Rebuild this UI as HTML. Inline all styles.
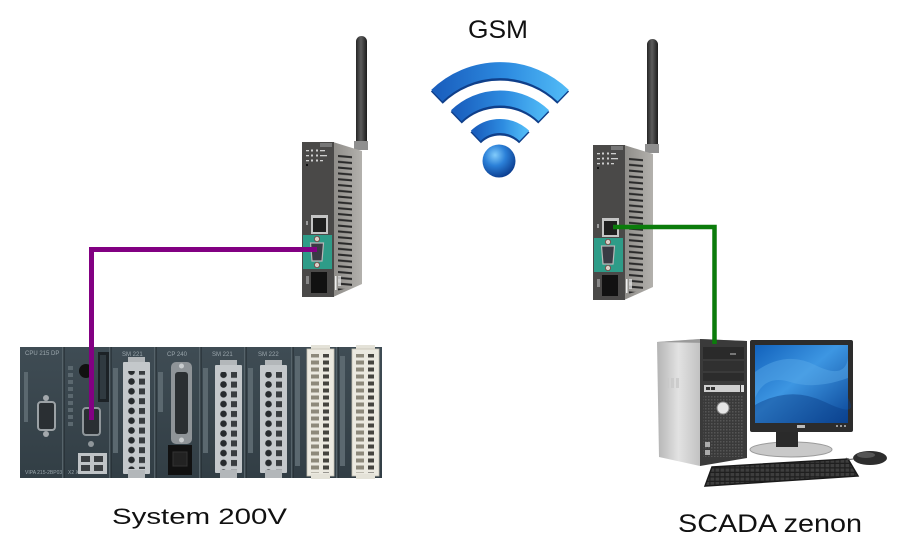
<!DOCTYPE html>
<html><head><meta charset="utf-8"><style>
html,body{margin:0;padding:0;background:#fff;}
svg{display:block;}
text{font-family:"Liberation Sans",Arial,sans-serif;}
</style></head><body>
<svg width="902" height="553" viewBox="0 0 902 553" xmlns="http://www.w3.org/2000/svg">
<defs>
 <linearGradient id="ant" x1="0" x2="1" y1="0" y2="0">
  <stop offset="0" stop-color="#262626"/><stop offset="0.45" stop-color="#5c5c5c"/><stop offset="1" stop-color="#1c1c1c"/>
 </linearGradient>
 <linearGradient id="side" x1="0" x2="1">
  <stop offset="0" stop-color="#8e8c88"/><stop offset="1" stop-color="#b3b1ad"/>
 </linearGradient>
 <pattern id="slots" patternUnits="userSpaceOnUse" x="333" y="154" width="40" height="5.8">
  <path d="M5 1 L19 2.2 L19 4.2 L5 3Z" fill="#2a2a2a"/>
 </pattern>
 <linearGradient id="arcg" x1="0" x2="1" y1="0" y2="0">
  <stop offset="0" stop-color="#1a5fbe"/><stop offset="0.55" stop-color="#2d8be0"/><stop offset="1" stop-color="#4fb8f5"/>
 </linearGradient>
 <radialGradient id="ball" cx="0.38" cy="0.32" r="0.72">
  <stop offset="0" stop-color="#82ccfb"/><stop offset="0.45" stop-color="#2b80d8"/><stop offset="1" stop-color="#0a3a8c"/>
 </radialGradient>
 <linearGradient id="mod" x1="0" x2="0" y1="0" y2="1">
  <stop offset="0" stop-color="#3f4c54"/><stop offset="1" stop-color="#323e45"/>
 </linearGradient>
 <pattern id="holes" patternUnits="userSpaceOnUse" x="0" y="0" width="27" height="9.8">
  <circle cx="8.5" cy="4.9" r="3.3" fill="#272b2e"/>
  <rect x="16" y="2" width="6" height="6" fill="#383c3f"/>
 </pattern>
 <pattern id="wholes" patternUnits="userSpaceOnUse" x="0" y="0" width="27" height="7">
  <rect x="4" y="1.5" width="8" height="4" fill="#8d897b"/>
  <rect x="16" y="1.5" width="6" height="4" fill="#45443f"/>
 </pattern>
 <linearGradient id="tower" x1="0" x2="1">
  <stop offset="0" stop-color="#b4b4b4"/><stop offset="0.5" stop-color="#e2e2e2"/><stop offset="1" stop-color="#c2c2c2"/>
 </linearGradient>
 <linearGradient id="screen" x1="0" x2="1" y1="0" y2="1">
  <stop offset="0" stop-color="#1262bc"/><stop offset="0.45" stop-color="#3d96e2"/><stop offset="1" stop-color="#0a4596"/>
 </linearGradient>
 <pattern id="grille" patternUnits="userSpaceOnUse" x="0" y="0" width="3" height="3">
  <rect width="3" height="3" fill="#3a3a3a"/><rect x="0" y="0" width="1.5" height="1.5" fill="#555"/>
 </pattern>
 <pattern id="keys" patternUnits="userSpaceOnUse" x="0" y="0" width="5" height="4.5">
  <rect width="5" height="4.5" fill="#1f1f1f"/><rect x="0.5" y="0.5" width="3.8" height="3.2" fill="#3e3e3e"/>
 </pattern>
 <g id="router">
  <rect x="356" y="36" width="11" height="112" rx="5.5" fill="url(#ant)"/>
  <rect x="354" y="141" width="14" height="9" fill="#8f8f8f"/>
  <polygon points="333,142 362,151 362,284 333,297" fill="url(#side)"/>
  <polygon points="333,152 362,158 362,284 333,292" fill="url(#slots)"/>
  <rect x="302" y="142" width="32" height="155" fill="#4a4948"/>
  <rect x="320" y="143" width="12" height="4" fill="#777"/>
  <g fill="#cfcfcf">
   <rect x="306" y="150" width="3" height="1.3"/><rect x="311" y="149.5" width="2" height="2"/><rect x="316" y="149.5" width="2" height="2"/><rect x="320" y="150" width="5" height="1.3"/>
   <rect x="306" y="155" width="3" height="1.3"/><rect x="311" y="154.5" width="2" height="2"/><rect x="316" y="154.5" width="2" height="2"/><rect x="320" y="155" width="7" height="1.3"/>
   <rect x="306" y="160" width="3" height="1.3"/><rect x="311" y="159.5" width="2" height="2"/><rect x="316" y="159.5" width="2" height="2"/><rect x="320" y="160" width="3" height="1.3"/>
  </g>
  <rect x="306" y="164" width="2" height="2" fill="#111"/>
  <rect x="306" y="221" width="2" height="4" fill="#999"/>
  <rect x="311" y="215" width="17" height="19" fill="#c4c4c4"/>
  <rect x="313" y="218" width="13" height="14" fill="#1e1e1e"/>
  <rect x="303" y="235" width="29" height="34" fill="#2e9c88"/>
  <circle cx="317" cy="239" r="2.6" fill="#d8d0c8" stroke="#7a3d3d" stroke-width="0.8"/>
  <circle cx="317" cy="265" r="2.6" fill="#d8d0c8" stroke="#7a3d3d" stroke-width="0.8"/>
  <path d="M310.5 243 L323.5 243 L322 261 L312 261Z" fill="#3a3a44" stroke="#b8b8b8" stroke-width="1.2"/>
  <rect x="306" y="276" width="3" height="8" fill="#888"/>
  <rect x="311" y="272" width="16" height="21" fill="#111"/>
  <rect x="335" y="276" width="1.5" height="14" fill="#eee"/>
  <rect x="338" y="276" width="3" height="10" fill="#ddd" opacity="0.8"/>
 </g>
</defs>

<!-- Routers -->
<use href="#router"/>
<use href="#router" transform="translate(291,3)"/>

<!-- WiFi icon -->
<g fill="none">
 <path d="M436.8,97.6 A91,91 0 0 1 563.2,97.6" stroke="#0f3f8a" stroke-width="17"/>
 <path d="M456.2,117.7 A63,63 0 0 1 543.8,117.7" stroke="#0f3f8a" stroke-width="16"/>
 <path d="M475.7,137.8 A35,35 0 0 1 524.3,137.8" stroke="#0f3f8a" stroke-width="15"/>
 <path d="M436.8,95.6 A91,91 0 0 1 563.2,95.6" stroke="url(#arcg)" stroke-width="16"/>
 <path d="M456.2,115.7 A63,63 0 0 1 543.8,115.7" stroke="url(#arcg)" stroke-width="15"/>
 <path d="M475.7,135.8 A35,35 0 0 1 524.3,135.8" stroke="url(#arcg)" stroke-width="14"/>
</g>
<circle cx="499" cy="161" r="16.5" fill="url(#ball)"/>

<!-- PLC System 200V -->
<g>
 <rect x="20" y="347" width="362" height="131" fill="url(#mod)"/>
 <g fill="#56636a">
  <rect x="62" y="347" width="1.5" height="131"/><rect x="109" y="347" width="1.5" height="131"/>
  <rect x="154" y="347" width="1.5" height="131"/><rect x="199" y="347" width="1.5" height="131"/>
  <rect x="244" y="347" width="1.5" height="131"/><rect x="291" y="347" width="1.5" height="131"/>
  <rect x="336" y="347" width="1.5" height="131"/>
 </g>
 <g fill="#1f272c">
  <rect x="63.5" y="347" width="1" height="131"/><rect x="110.5" y="347" width="1" height="131"/>
  <rect x="155.5" y="347" width="1" height="131"/><rect x="200.5" y="347" width="1" height="131"/>
  <rect x="245.5" y="347" width="1" height="131"/><rect x="292.5" y="347" width="1" height="131"/>
  <rect x="337.5" y="347" width="1" height="131"/>
 </g>
 <g font-size="6" fill="#9aa6ac">
  <text x="25" y="355">CPU 215 DP</text>
  <text x="122" y="356">SM 221</text>
  <text x="167" y="356">CP 240</text>
  <text x="212" y="356">SM 221</text>
  <text x="258" y="356">SM 222</text>
  <text x="25" y="474" font-size="5">VIPA 215-2BP03</text>
  <text x="68" y="474" font-size="5">X2 X3</text>
 </g>
 <!-- LED columns -->
 <g fill="#5b686f">
  <rect x="24" y="372" width="4" height="50"/>
  <rect x="68" y="366" width="5" height="4"/><rect x="68" y="373" width="5" height="4"/><rect x="68" y="380" width="5" height="4"/><rect x="68" y="387" width="5" height="4"/><rect x="68" y="394" width="5" height="4"/><rect x="68" y="401" width="5" height="4"/><rect x="68" y="408" width="5" height="4"/><rect x="68" y="415" width="5" height="4"/><rect x="68" y="422" width="5" height="4"/>
  <rect x="113" y="368" width="5" height="85"/>
  <rect x="158" y="372" width="5" height="40"/>
  <rect x="203" y="368" width="5" height="85"/>
  <rect x="248" y="368" width="5" height="85"/>
  <rect x="295" y="356" width="5" height="110"/>
  <rect x="340" y="356" width="5" height="110"/>
 </g>
 <!-- module 1 DB9 -->
 <circle cx="46" cy="398" r="3" fill="#a3a8ac"/>
 <circle cx="46" cy="434" r="3" fill="#a3a8ac"/>
 <rect x="38" y="402" width="17" height="28" rx="3" fill="#2a2f33" stroke="#9ba1a5" stroke-width="2"/>
 <!-- module 2 -->
 <circle cx="86" cy="371" r="7" fill="#111"/>
 <rect x="98" y="352" width="11" height="50" fill="#1c2226"/>
 <rect x="100" y="355" width="6" height="44" fill="#303a40"/>
 <rect x="83" y="408" width="17" height="27" rx="3" fill="#2a2f33" stroke="#8f969a" stroke-width="2"/>
 <circle cx="91" cy="444" r="3" fill="#8f969a"/>
 <rect x="78" y="453" width="29" height="21" fill="#bfc3c6"/>
 <rect x="81" y="456" width="9" height="6" fill="#3a3e41"/><rect x="94" y="456" width="9" height="6" fill="#3a3e41"/>
 <rect x="81" y="465" width="9" height="6" fill="#3a3e41"/><rect x="94" y="465" width="9" height="6" fill="#3a3e41"/>
 <!-- module 3 connector -->
 <g transform="translate(123,357)">
  <rect x="5" y="0" width="17" height="9" fill="#b3b7ba"/>
  <rect x="0" y="5" width="27" height="112" rx="1" fill="#c4c8cb"/>
  <rect x="0" y="14" width="27" height="98" fill="url(#holes)"/>
  <rect x="5" y="113" width="17" height="8" fill="#b3b7ba"/>
 </g>
 <!-- module 4 CP240 -->
 <rect x="171" y="362" width="21" height="82" rx="5" fill="#8f9498"/>
 <circle cx="181.5" cy="366" r="2.5" fill="#c8ccce"/>
 <circle cx="181.5" cy="440" r="2.5" fill="#c8ccce"/>
 <rect x="175" y="372" width="13" height="62" rx="3" fill="#2b2f32"/>
 <rect x="168" y="445" width="24" height="30" fill="#111"/>
 <rect x="173" y="452" width="14" height="14" fill="#222" stroke="#333"/>
 <!-- module 5 connector -->
 <g transform="translate(215,360)">
  <rect x="5" y="0" width="17" height="9" fill="#b3b7ba"/>
  <rect x="0" y="5" width="27" height="108" rx="1" fill="#c4c8cb"/>
  <rect x="0" y="12" width="27" height="98" fill="url(#holes)"/>
  <rect x="5" y="110" width="17" height="8" fill="#b3b7ba"/>
 </g>
 <!-- module 6 connector -->
 <g transform="translate(260,360)">
  <rect x="5" y="0" width="17" height="9" fill="#b3b7ba"/>
  <rect x="0" y="5" width="27" height="108" rx="1" fill="#c4c8cb"/>
  <rect x="0" y="12" width="27" height="98" fill="url(#holes)"/>
  <rect x="5" y="110" width="17" height="8" fill="#b3b7ba"/>
 </g>
 <!-- module 7 white connector -->
 <g transform="translate(307,345)">
  <rect x="4" y="0" width="19" height="6" fill="#e4e2d8"/>
  <rect x="0" y="4" width="27" height="127" fill="#ebe9e0" stroke="#c5c1b4" stroke-width="0.8"/>
  <rect x="0" y="9" width="27" height="119" fill="url(#wholes)"/>
  <rect x="4" y="129" width="19" height="5" fill="#e4e2d8"/>
 </g>
 <g transform="translate(352,345)">
  <rect x="4" y="0" width="19" height="6" fill="#e4e2d8"/>
  <rect x="0" y="4" width="27" height="127" fill="#ebe9e0" stroke="#c5c1b4" stroke-width="0.8"/>
  <rect x="0" y="9" width="27" height="119" fill="url(#wholes)"/>
  <rect x="4" y="129" width="19" height="5" fill="#e4e2d8"/>
 </g>
</g>

<!-- Computer -->
<g>
 <polygon points="657,342 700,339 700,466 659,457" fill="url(#tower)"/>
 <polygon points="657,342 700,339 747,341 706,343" fill="#9a9a9a"/>
 <g fill="#c9c9c9" opacity="0.8"><rect x="666" y="378" width="3" height="10"/><rect x="671" y="378" width="3" height="10"/><rect x="676" y="378" width="3" height="10"/></g>
 <polygon points="700,339 747,341 747,458 700,466" fill="#3a3a3a"/>
 <rect x="703" y="347" width="41" height="12" fill="#2a2a2a"/>
 <rect x="703" y="361" width="41" height="10" fill="#303030"/>
 <rect x="703" y="373" width="41" height="8" fill="#2c2c2c"/>
 <rect x="730" y="353" width="6" height="2" fill="#777"/>
 <rect x="704" y="385" width="36" height="7" fill="#cfcfcf"/>
 <rect x="706" y="387" width="4" height="3" fill="#333"/><rect x="711" y="387" width="4" height="3" fill="#333"/>
 <rect x="741" y="385" width="3" height="7" fill="#ddd"/>
 <rect x="703" y="395" width="41" height="62" fill="url(#grille)"/>
 <circle cx="723" cy="408" r="6" fill="#e6e6e6" stroke="#8a8a8a" stroke-width="1"/>
 <rect x="705" y="442" width="5" height="5" fill="#aaa"/>
 <rect x="705" y="450" width="5" height="5" fill="#aaa"/>
 <!-- monitor -->
 <ellipse cx="791" cy="449.5" rx="41" ry="7.5" fill="#c9c9c9" stroke="#9b9b9b" stroke-width="1"/>
 <rect x="776" y="430" width="22" height="17" fill="#2a2a2a"/>
 <rect x="750" y="340" width="103" height="92" rx="2" fill="#2c2c2c"/>
 <rect x="755" y="345" width="93" height="78" fill="url(#screen)"/>
 <path d="M755 372 Q785 350 815 365 T848 358 L848 378 Q815 390 790 382 T755 398Z" fill="#5aaae8" opacity="0.45"/>
 <path d="M755 405 Q790 385 825 402 T848 398 L848 423 L755 423Z" fill="#0b3f88" opacity="0.45"/>
 <rect x="797" y="425" width="8" height="3" fill="#bbb"/>
 <rect x="836" y="425" width="2" height="2" fill="#999"/><rect x="840" y="425" width="2" height="2" fill="#999"/><rect x="844" y="425" width="2" height="2" fill="#999"/>
 <!-- keyboard -->
 <polygon points="712,467 848,459 858,476 705,486" fill="url(#keys)" stroke="#1a1a1a" stroke-width="1.5"/>
 <!-- mouse -->
 <path d="M853 459 Q848 460 846 458" stroke="#555" stroke-width="1" fill="none"/>
 <ellipse cx="870" cy="458" rx="17" ry="7" fill="#2d2d2d"/>
 <ellipse cx="866" cy="455" rx="9" ry="3" fill="#555"/>
</g>

<!-- Connection lines -->
<polyline points="317,249.5 91.5,249.5 91.5,420" fill="none" stroke="#820082" stroke-width="5"/>
<polyline points="613,227 714.5,227 714.5,344" fill="none" stroke="#0b7c0b" stroke-width="4.5"/>

<!-- Labels -->
<text x="468" y="38" font-size="25" fill="#111" textLength="60" lengthAdjust="spacingAndGlyphs">GSM</text>
<text x="112" y="524" font-size="22" fill="#111" textLength="175" lengthAdjust="spacingAndGlyphs">System 200V</text>
<text x="678" y="532" font-size="25" fill="#111" textLength="184" lengthAdjust="spacingAndGlyphs">SCADA zenon</text>
</svg>
</body></html>
